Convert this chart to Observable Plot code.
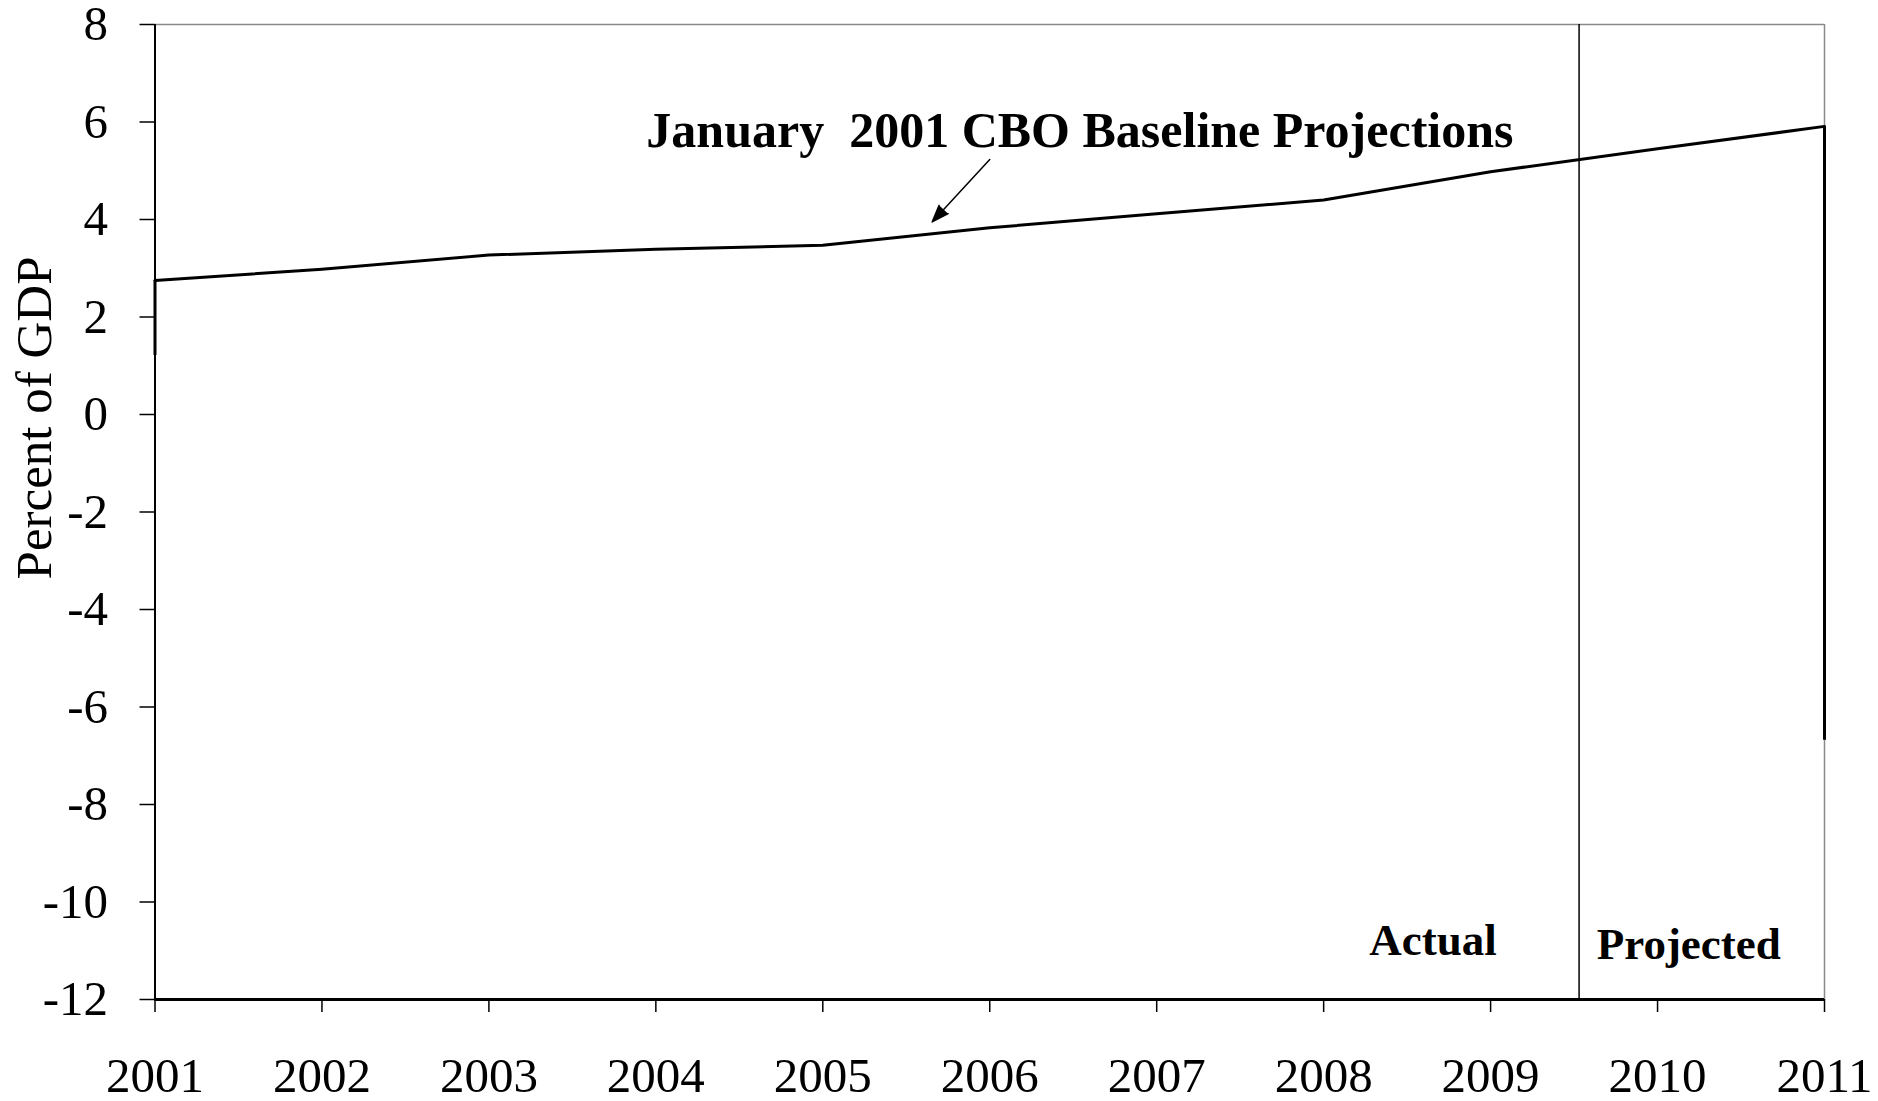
<!DOCTYPE html>
<html>
<head>
<meta charset="utf-8">
<script src="https://cdn.jsdelivr.net/npm/d3@7"></script>
<script src="https://cdn.jsdelivr.net/npm/@observablehq/plot@0.6"></script>
<style>
  html, body { margin: 0; padding: 0; background: #ffffff; }
  #chart svg { display: block; }
</style>
</head>
<body>
<div id="chart"></div>
<script>
// ---- data ----
const years = [2001, 2002, 2003, 2004, 2005, 2006, 2007, 2008, 2009, 2010, 2011];
const baseline = [2.75, 2.98, 3.27, 3.39, 3.47, 3.83, 4.12, 4.40, 4.98, 5.45, 5.91];

// end edges of the baseline area that stay visible (down to where the second series covers them)
const edgeYears = [2001, 2011];
const edgeLow = [1.21, -6.68];

const dividerYear = [2009.53];
const yTicks = [8, 6, 4, 2, 0, -2, -4, -6, -8, -10, -12];
const xTicks = years;

const periodLabels = ["Actual", "Projected"];
const periodX = [2008.655, 2010.187];
const periodY = [-11.09, -11.16];

const annotationText = ["January\u00a0 2001 CBO Baseline Projections"];
const annotationX = [2006.54];
const annotationY = [5.49];
const arrowX1 = [2006.0], arrowY1 = [5.23], arrowX2 = [2005.655], arrowY2 = [3.95];

const yLabel = ["Percent of GDP"];
const yLabelY = [-0.07];

// ---- tables built from the arrays ----
const series = years.map((y, i) => ({year: y, value: baseline[i]}));
const edges = edgeYears.map((y, i) => ({year: y, low: edgeLow[i], high: baseline[years.indexOf(y)]}));
const periods = periodLabels.map((t, i) => ({text: t, x: periodX[i], y: periodY[i]}));
const annotations = annotationText.map((t, i) => ({text: t, x: annotationX[i], y: annotationY[i]}));
const arrows = arrowX1.map((x, i) => ({x1: x, y1: arrowY1[i], x2: arrowX2[i], y2: arrowY2[i]}));

const xMin = d3.min(years), xMax = d3.max(years);
const yMin = d3.min(yTicks), yMax = d3.max(yTicks);

const chart = Plot.plot({
  width: 1878,
  height: 1101,
  marginLeft: 154.5,
  marginRight: 54,
  marginTop: 24,
  marginBottom: 102,
  style: {fontFamily: "'Liberation Serif', 'Times New Roman', serif", fontSize: "49px", color: "#000", background: "#fff"},
  x: {domain: [xMin, xMax]},
  y: {domain: [yMin, yMax]},
  marks: [
    // top and right borders (grey)
    Plot.ruleY([yMax], {stroke: "#8a8a8a", strokeWidth: 1.5}),
    Plot.ruleX([xMax], {stroke: "#8a8a8a", strokeWidth: 1.5}),
    // actual / projected divider
    Plot.ruleX(dividerYear, {stroke: "#000", strokeWidth: 1.5}),
    // left axis line
    Plot.ruleX([xMin], {stroke: "#000", strokeWidth: 2}),
    // baseline series
    Plot.line(series, {x: "year", y: "value", stroke: "#000", strokeWidth: 3}),
    Plot.ruleX(edges, {x: "year", y1: "low", y2: "high", stroke: "#000", strokeWidth: 3}),
    // bottom axis line (thick)
    Plot.ruleY([yMin], {stroke: "#000", strokeWidth: 3}),
    // axes
    Plot.axisY({ticks: yTicks, tickSize: 15, tickPadding: 32, tickFormat: d => String(d), label: null, stroke: "#000", strokeWidth: 1.5, fontSize: 49}),
    Plot.axisX({ticks: xTicks, tickSize: 13, tickPadding: 45, tickFormat: d => String(d), label: null, stroke: "#000", strokeWidth: 1.5, fontSize: 49}),
    // y label
    Plot.text(yLabel, {y: yLabelY, frameAnchor: "left", dx: -120.5, rotate: -90, textAnchor: "middle", lineAnchor: "middle", fontSize: 51, fill: "#000"}),
    // annotation
    Plot.text(annotations, {x: "x", y: "y", text: "text", fontSize: 50, fontWeight: "bold", lineAnchor: "bottom", textAnchor: "middle", fill: "#000"}),
    Plot.arrow(arrows, {x1: "x1", y1: "y1", x2: "x2", y2: "y2", stroke: "#000", strokeWidth: 1.5, headLength: 18, headAngle: 40}),
    // period labels
    Plot.text(periods, {x: "x", y: "y", text: "text", fontSize: 45, fontWeight: "bold", lineAnchor: "bottom", textAnchor: "middle", fill: "#000"})
  ]
});
// fill the arrow head so it reads as a solid triangle
d3.select(chart).selectAll("g[aria-label='arrow'] path").attr("fill", "#000");
document.getElementById("chart").appendChild(chart);
</script>
</body>
</html>
